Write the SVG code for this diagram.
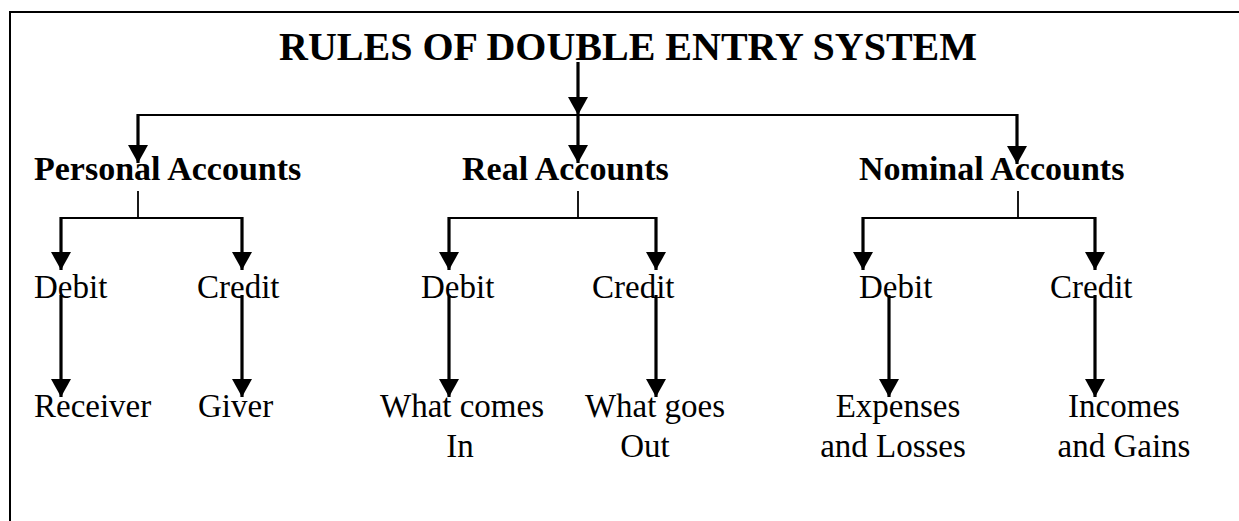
<svg xmlns="http://www.w3.org/2000/svg" width="1239" height="521" viewBox="0 0 1239 521">
<style>
  .t { font-family: "Liberation Serif", "Times New Roman", serif; fill: #000; }
  .title { font-size: 40px; font-weight: bold; }
  .head { font-size: 34px; font-weight: bold; }
  .lbl { font-size: 33px; }
  .ar { stroke: #000; stroke-width: 3.2; fill: none; marker-end: url(#ah); }
  .ln { stroke: #000; stroke-width: 1.8; fill: none; }
</style>
<defs>
  <marker id="ah" markerUnits="userSpaceOnUse" markerWidth="19" markerHeight="20" refX="18" refY="10" orient="auto" viewBox="0 0 19 20">
    <path d="M0,0 L18,10 L0,20 Z" fill="#000"/>
  </marker>
</defs>
<rect x="0" y="0" width="1239" height="521" fill="#fff"/>
<rect x="10" y="12" width="1245" height="530" fill="none" stroke="#000" stroke-width="2"/>

<g id="connectors">
  <line x1="578" y1="62" x2="578" y2="115" class="ar"/>
  <line x1="138" y1="115" x2="1017" y2="115" class="ln"/>
  <line x1="138" y1="114" x2="138" y2="163" class="ar"/>
  <line x1="578" y1="115" x2="578" y2="163" class="ar"/>
  <line x1="1017" y1="114" x2="1017" y2="164" class="ar"/>
  <line x1="138" y1="191" x2="138" y2="218" class="ln"/>
  <line x1="61" y1="218" x2="242" y2="218" class="ln"/>
  <line x1="61" y1="217" x2="61" y2="270" class="ar"/>
  <line x1="242" y1="217" x2="242" y2="270" class="ar"/>
  <line x1="61" y1="295" x2="61" y2="397" class="ar"/>
  <line x1="242" y1="295" x2="242" y2="397" class="ar"/>
  <line x1="578" y1="191" x2="578" y2="218" class="ln"/>
  <line x1="449" y1="218" x2="656" y2="218" class="ln"/>
  <line x1="449" y1="217" x2="449" y2="270" class="ar"/>
  <line x1="656" y1="217" x2="656" y2="270" class="ar"/>
  <line x1="449" y1="295" x2="449" y2="397" class="ar"/>
  <line x1="656" y1="295" x2="656" y2="397" class="ar"/>
  <line x1="1018" y1="191" x2="1018" y2="218" class="ln"/>
  <line x1="863" y1="218" x2="1095" y2="218" class="ln"/>
  <line x1="863" y1="217" x2="863" y2="270" class="ar"/>
  <line x1="1095" y1="217" x2="1095" y2="270" class="ar"/>
  <line x1="889" y1="295" x2="889" y2="397" class="ar"/>
  <line x1="1095" y1="295" x2="1095" y2="397" class="ar"/>
</g>

<g id="title"><text class="t title" x="279" y="60">RULES OF DOUBLE ENTRY SYSTEM</text></g>

<g id="personal"><text class="t head" x="34" y="180">Personal Accounts</text></g>
<g id="real"><text class="t head" x="462" y="180">Real Accounts</text></g>
<g id="nominal"><text class="t head" x="859" y="180">Nominal Accounts</text></g>

<g id="personal-debit"><text class="t lbl" x="34" y="298">Debit</text></g>
<g id="personal-credit"><text class="t lbl" x="197" y="298">Credit</text></g>
<g id="real-debit"><text class="t lbl" x="421" y="298">Debit</text></g>
<g id="real-credit"><text class="t lbl" x="592" y="298">Credit</text></g>
<g id="nominal-debit"><text class="t lbl" x="859" y="298">Debit</text></g>
<g id="nominal-credit"><text class="t lbl" x="1050" y="298">Credit</text></g>

<g id="receiver"><text class="t lbl" x="34" y="417">Receiver</text></g>
<g id="giver"><text class="t lbl" x="198" y="417">Giver</text></g>
<g id="what-comes-in"><text class="t lbl" text-anchor="middle"><tspan x="462" y="417">What comes</tspan><tspan x="460" y="457">In</tspan></text></g>
<g id="what-goes-out"><text class="t lbl" text-anchor="middle"><tspan x="655" y="417">What goes</tspan><tspan x="645" y="457">Out</tspan></text></g>
<g id="expenses"><text class="t lbl" text-anchor="middle"><tspan x="898" y="417">Expenses</tspan><tspan x="893" y="457">and Losses</tspan></text></g>
<g id="incomes"><text class="t lbl" text-anchor="middle"><tspan x="1124" y="417">Incomes</tspan><tspan x="1124" y="457">and Gains</tspan></text></g>
</svg>
